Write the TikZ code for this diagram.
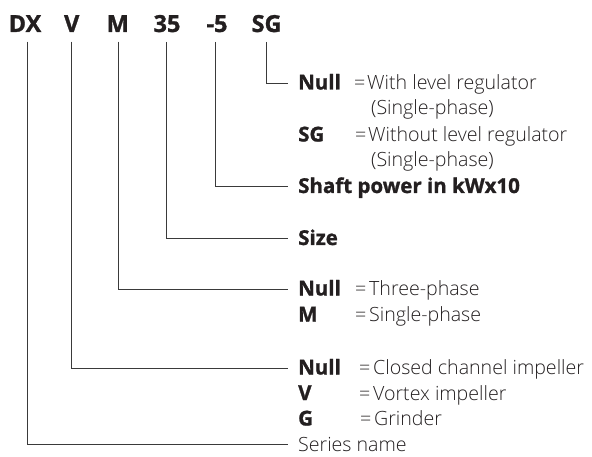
\documentclass[tikz,border=0pt]{standalone}
\usepackage{fontspec}
\setmainfont{Open Sans}[BoldFeatures={FakeBold=1.2}]
\IfFontExistsTF{Open Sans Light}
  {\newfontfamily\lightfont{Open Sans Light}}
  {\newfontfamily\lightfont{Open Sans}}
\definecolor{ink}{HTML}{231F20}
\definecolor{rule}{HTML}{3A3A3A}
\tikzset{
  x=1pt, y=-1pt,
  code/.style={anchor=base, inner sep=0pt, font=\fontsize{23.5}{23.5}\selectfont\bfseries, text=ink},
  key/.style={anchor=base west, inner sep=0pt, text height=13pt, text depth=0pt, font=\fontsize{20.5}{20.5}\selectfont\bfseries, text=ink},
  val/.style={anchor=base west, inner sep=0pt, text height=13pt, text depth=0pt, font=\fontsize{19.6}{19.6}\selectfont\lightfont, text=ink},
  conn/.style={draw=rule, line width=0.8pt, shorten <=9.5pt, shorten >=10.5pt},
}
\begin{document}
\begin{tikzpicture}
\useasboundingbox (0,0) rectangle (592,457);
% header codes
\node[code] (cDX) at (25,32) {DX};
\node[code] (cV) at (71.7,32) {V};
\node[code] (cM) at (117.8,32) {M};
\node[code] (c35) at (167,32) {35};
\node[code] (c5) at (217,32) {-5};
\node[code] (cSG) at (266.6,32) {SG};
% SG group
\node[key] (kSGnull) at (298,89.5) {Null};
\node[val] (eSG1) at (354,89.5) {=};
\node[val] (tSG1) at (367,89.5) {With level regulator};
\node[val] (tSG1b) at (371,115) {(Single-phase)};
\node[key] (kSG) at (298,141.5) {SG};
\node[val] (eSG2) at (355,141.5) {=};
\node[val] (tSG2) at (368,141.5) {Without level regulator};
\node[val] (tSG2b) at (371,167) {(Single-phase)};
% shaft power
\node[key] (kShaft) at (298,193) {Shaft power in kWx10};
% size
\node[key] (kSize) at (298,245) {Size};
% M group
\node[key] (kMnull) at (298,295.5) {Null};
\node[val] (eM1) at (355,295.5) {=};
\node[val] (tM1) at (369,295.5) {Three-phase};
\node[key] (kM) at (298,321.5) {M};
\node[val] (eM2) at (355,321.5) {=};
\node[val] (tM2) at (369,321.5) {Single-phase};
% V group
\node[key] (kVnull) at (298,374.5) {Null};
\node[val] (eV1) at (359,374.5) {=};
\node[val] (tV1) at (373,374.5) {Closed channel impeller};
\node[key] (kV) at (298,400) {V};
\node[val] (eV2) at (359,400) {=};
\node[val] (tV2) at (373,400) {Vortex impeller};
\node[key] (kG) at (298,425.5) {G};
\node[val] (eV3) at (360,425.5) {=};
\node[val] (tV3) at (374,425.5) {Grinder};
% series
\node[val] (tSeries) at (298,451) {Series name};
% connectors
\draw[conn] (cSG.south) |- (kSGnull.west);
\draw[conn] ([xshift=-1.7pt]c5.south) |- (kShaft.west);
\draw[conn] ([xshift=-0.7pt]c35.south) |- (kSize.west);
\draw[conn] ([xshift=0.5pt]cM.south) |- (kMnull.west);
\draw[conn] (cV.south) |- (kVnull.west);
\draw[conn] ([xshift=2.7pt]cDX.south) |- (tSeries.west);
\end{tikzpicture}
\end{document}
